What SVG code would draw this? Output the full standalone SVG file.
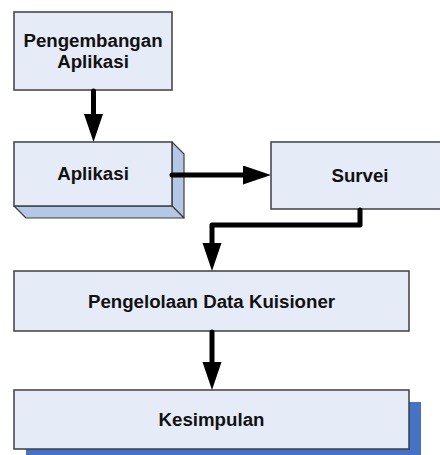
<svg xmlns="http://www.w3.org/2000/svg" width="440" height="455" viewBox="0 0 440 455">
  <defs>
    <style>
      .box { fill: #E6ECF7; stroke: #3f3f3f; stroke-width: 1.5; }
      .side { fill: #B4C7E7; stroke: #3f3f3f; stroke-width: 1.2; stroke-linejoin: round; }
      .shadow { fill: #4472C4; }
      .label { font-family: "Liberation Sans", Arial, sans-serif; font-weight: bold; font-size: 18.7px; fill: #111; text-anchor: middle; }
      .conn { fill: none; stroke: #000; stroke-width: 5; stroke-linecap: round; stroke-linejoin: round; }
    </style>
    <marker id="head" markerUnits="userSpaceOnUse" markerWidth="28" markerHeight="20" refX="2" refY="9.5" orient="auto">
      <path d="M0,0 L28,9.5 L0,19 Z" fill="#000"/>
    </marker>
  </defs>

  <rect width="440" height="455" fill="#fff"/>

  <!-- flow nodes -->
  <g id="node-pengembangan">
    <rect class="box" x="14" y="12" width="158" height="78"/>
    <text class="label" x="93" y="47">Pengembangan</text>
    <text class="label" x="93" y="68">Aplikasi</text>
  </g>

  <g id="node-aplikasi">
    <polygon class="side" points="172,142 184,154 184,218 172,206"/>
    <polygon class="side" points="14,206 172,206 184,218 26,218"/>
    <rect class="box" x="14" y="142" width="158" height="64"/>
    <text class="label" x="93" y="180">Aplikasi</text>
  </g>

  <g id="node-survei">
    <rect class="box" x="271" y="142" width="178" height="67"/>
    <text class="label" x="360" y="182">Survei</text>
  </g>

  <g id="node-pengelolaan">
    <rect class="box" x="14" y="271" width="395" height="60"/>
    <text class="label" x="211.5" y="308">Pengelolaan Data Kuisioner</text>
  </g>

  <g id="node-kesimpulan">
    <rect class="shadow" x="26" y="402" width="395" height="60"/>
    <rect class="box" x="14" y="390" width="395" height="59"/>
    <text class="label" x="211.5" y="426">Kesimpulan</text>
  </g>

  <!-- connectors -->
  <g id="connectors">
    <path class="conn" d="M93.5,91 L93.5,116" marker-end="url(#head)"/>
    <path class="conn" d="M172,175 L245,175" marker-end="url(#head)"/>
    <path class="conn" d="M360,210 L360,225 L212,225 L212,245" marker-end="url(#head)"/>
    <path class="conn" d="M212,332 L212,364" marker-end="url(#head)"/>
  </g>
</svg>
